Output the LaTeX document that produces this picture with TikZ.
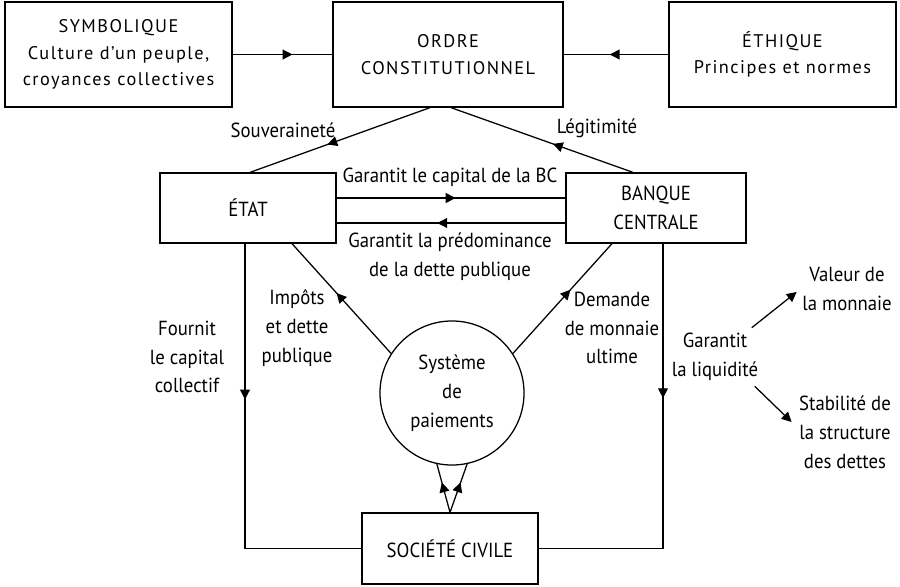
\documentclass[tikz,border=0pt]{standalone}
\usepackage{fontspec}
\setmainfont{PT Sans}
\newfontfamily\lblfont{PT Sans}[FakeStretch=0.92]
\newfontfamily\boxfont{PT Sans}[LetterSpace=8]
\usetikzlibrary{arrows.meta,decorations.markings,positioning}

\begin{document}
\begin{tikzpicture}[x=0.025cm,y=-0.025cm]
\tikzstyle{every node}=[font=\lblfont\fontsize{14.5}{20.5}\selectfont, align=center, inner sep=0pt]
\tikzstyle{every path}=[line width=0.9pt]
\tikzstyle{box}=[draw, minimum height=2.625cm]
\tikzstyle{topbox}=[box, font=\boxfont\fontsize{13}{19}\selectfont]
\tikzset{mid/.style={postaction={decorate},decoration={markings,
  mark=at position #1 with {\arrow{Triangle[length=7pt,width=7pt]}}}}}

\useasboundingbox (0,0) rectangle (900,586);

\node[topbox, minimum width=5.675cm] (SYM) at (118.5,54.5) {SYMBOLIQUE\\Culture d’un peuple,\\croyances collectives};
\node[topbox, minimum width=5.75cm] (ORD) at (448,54.5) {ORDRE\\CONSTITUTIONNEL};
\node[topbox, minimum width=5.675cm] (ETH) at (782.5,54.5) {ÉTHIQUE\\Principes et normes};
\node[box, minimum width=4.4cm, minimum height=1.75cm] (ETA) at (248,208) {ÉTAT};
\node[box, minimum width=4.5cm, minimum height=1.75cm] (BC) at (656,208) {BANQUE\\CENTRALE};
\node[draw, circle, minimum size=3.6cm] (SP) at (452,393) {Système\\de\\paiements};
\node[box, minimum width=4.4cm, minimum height=1.775cm] (SC) at (450,548.5) {SOCIÉTÉ CIVILE};

% labels
\node (souv) at (283,130) {Souveraineté};
\node (legit) at (597,128) {Légitimité};
\node (capBC) at (450,177) {Garantit le capital de la BC};
\node (predom) at (450,257) {Garantit la prédominance\\de la dette publique};
\node (impots) at (297,328) {Impôts\\et dette\\publique};
\node (demande) at (612,328) {Demande\\de monnaie\\ultime};
\node (fournit) at (187,357) {Fournit\\le capital\\collectif};
\node (liq) at (715,357) {Garantit\\la liquidité};
\node (val) at (847,289) {Valeur de\\la monnaie};
\node (stab) at (845,432) {Stabilité de\\la structure\\des dettes};

% connectors
\draw[mid=0.6] (SYM) -- (ORD);
\draw[mid=0.56] (ETH) -- (ORD);
\draw[mid=0.57] ([shift={(-18,0)}]ORD.south) -- ([shift={(2,0)}]ETA.north);
\draw[mid=0.44] ([shift={(-23,0)}]BC.north) -- ([shift={(3,0)}]ORD.south);
\draw[mid=0.52] ([shift={(0,-10)}]ETA.east) -- ([shift={(0,-10)}]BC.west);
\draw[mid=0.56] ([shift={(0,15)}]BC.west) -- ([shift={(0,15)}]ETA.east);
\draw[mid=0.55] (SP.147) -- ([shift={(44,0)}]ETA.south);
\draw[mid=0.58] (SP.33) -- ([shift={(-44,0)}]BC.south);
\draw[mid=0.37] ([shift={(-3,0)}]ETA.south) |- (SC.west);
\draw[mid=0.36] ([shift={(7,0)}]BC.south) |- (SC.east);
\draw[mid=0.62] (SC.north) -- (SP.258);
\draw[mid=0.62] (SC.north) -- (SP.282);
\draw[-{Triangle[length=7pt,width=7pt]}] ([shift={(-7,-5)}]liq.north east) -- ([shift={(-5,3)}]val.west);
\draw[-{Triangle[length=7pt,width=7pt]}] ([shift={(-4,5)}]liq.south east) -- ([shift={(-7,-10)}]stab.west);
\end{tikzpicture}
\end{document}
